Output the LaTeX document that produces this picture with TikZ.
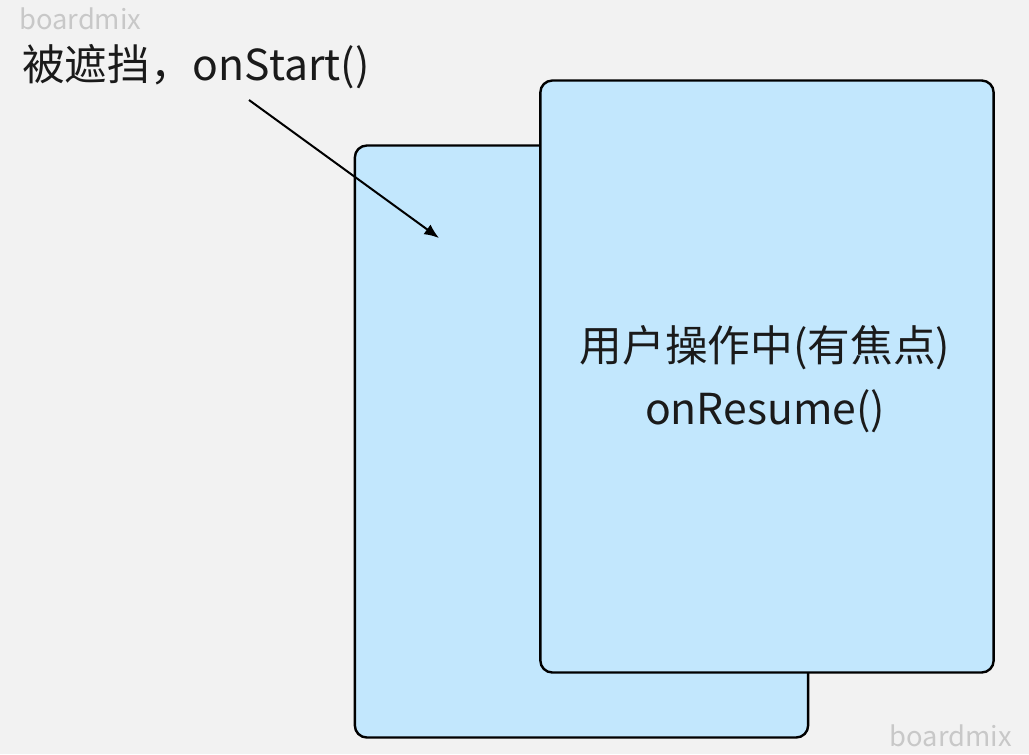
\documentclass[tikz,border=0pt]{standalone}
\usepackage{fontspec}
\setmainfont{Noto Sans CJK SC}
\usepackage{xcolor}
\usetikzlibrary{positioning, arrows.meta}

\definecolor{bggray}{HTML}{F2F2F2}
\definecolor{cardblue}{HTML}{C2E7FD}
\definecolor{markgray}{HTML}{C8C8C8}
\definecolor{inkblack}{HTML}{1A1A1A}

\tikzset{
    card/.style={draw, line width=1.8pt, fill=cardblue, rounded corners=9pt,
        minimum width=340pt, minimum height=444pt, inner sep=0pt},
    watermark/.style={text=markgray, font=\fontsize{20.5}{24}\selectfont, inner sep=0pt},
    cardtext/.style={text=inkblack, font=\fontsize{32}{38}\selectfont, inner sep=0pt},
}

\begin{document}
\begin{tikzpicture}[x=0.75pt, y=-0.75pt]
        \fill[bggray] (0,0) rectangle (1029,754);
        \useasboundingbox (0,0) rectangle (1029,754);
        \node[watermark, anchor=west] (mark1) at (19,19) {boardmix};
        \node[watermark, anchor=east] (mark2) at (1012,736) {boardmix};
        \node[card] (back) at (581.5,441.5) {};
        \node[card] (front) at (767,376.5) {};
        \node[cardtext, anchor=base] (focus) at (765,361) {用户操作中(有焦点)};
        \node[cardtext, anchor=base] (resume) at (765,424) {onResume()};
        \node[cardtext, anchor=west] (hidden) at (22,67) {被遮挡，onStart()};
        \coordinate (from) at (249,100);
        \coordinate (to) at (439,238);
        \draw[-{Latex[length=11pt,width=9pt]}, line width=1.5pt] (from) -- (to);
    \end{tikzpicture}
\end{document}
